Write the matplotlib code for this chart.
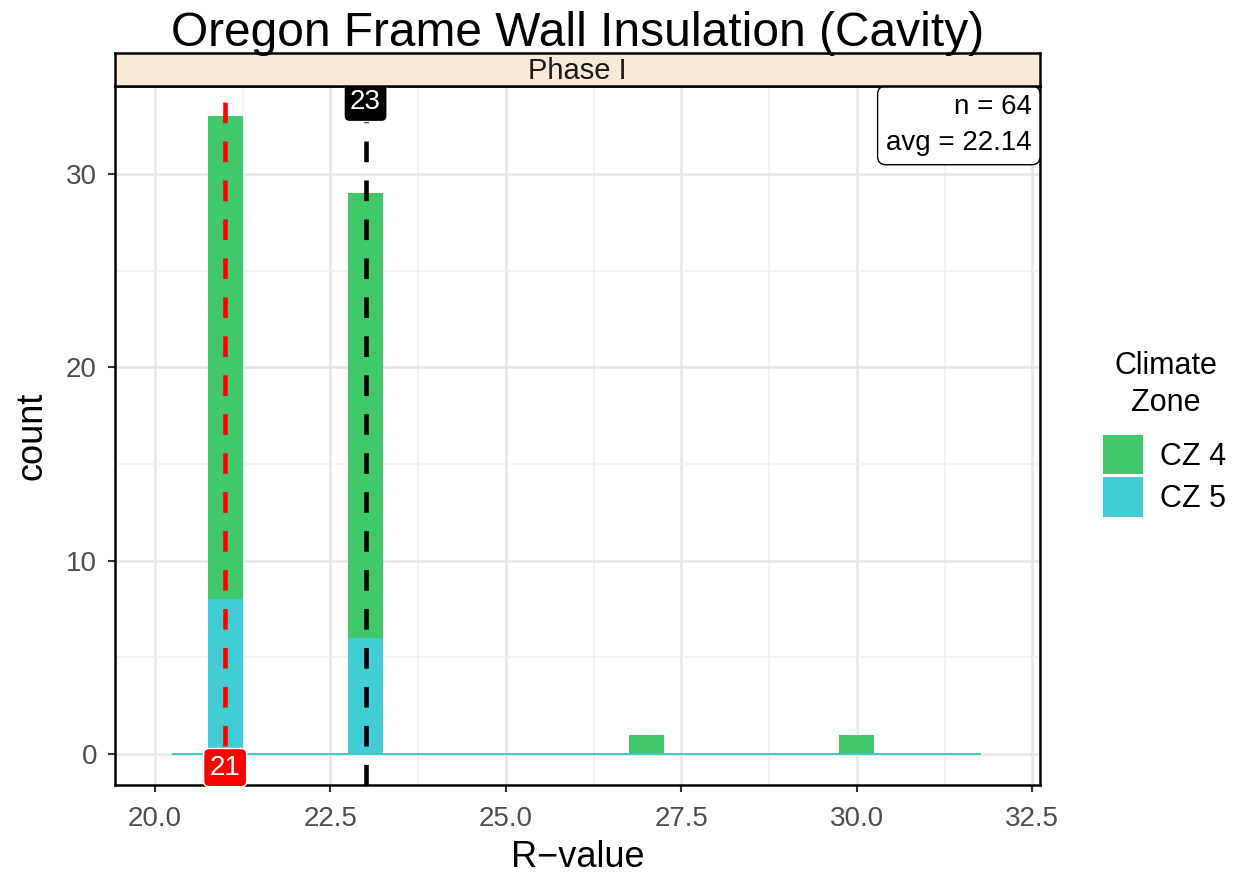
import matplotlib.pyplot as plt
import numpy as np

plt.rcParams['font.family'] = ['Liberation Sans', 'DejaVu Sans']

# datos (R-value, cuenta por zona)
r_values = [21, 23, 27, 30]
cz4_counts = [25, 23, 1, 1]
cz5_counts = [8, 6, 0, 0]
zones = ["CZ 4", "CZ 5"]
colores = ["#41C86A", "#41CDD3"]

bin_width = 0.5
bin_lo, bin_hi = 20.25, 31.75

mediana = 21
objetivo = 23
n_total = sum(cz4_counts) + sum(cz5_counts)
promedio = (np.dot(r_values, cz4_counts) + np.dot(r_values, cz5_counts)) / n_total

fig = plt.figure(figsize=(12.43, 8.8), dpi=100)
W, H = 1243, 880
x0, x1, y0, y1 = 115, 1040, 86, 785
ax = fig.add_axes([x0 / W, 1 - y1 / H, (x1 - x0) / W, (y1 - y0) / H])

# grilla estilo theme_bw
ax.set_axisbelow(True)
ax.set_xticks([20.0, 22.5, 25.0, 27.5, 30.0, 32.5])
ax.set_xticks([21.25, 23.75, 26.25, 28.75, 31.25], minor=True)
ax.set_yticks([0, 10, 20, 30])
ax.set_yticks([5, 15, 25], minor=True)
ax.grid(which='major', color="#E6E6E6", lw=1.8)
ax.grid(which='minor', color="#F0F0F0", lw=1.1)

# barras apiladas
b5 = ax.bar(r_values, cz5_counts, width=bin_width, color=colores[1], label=zones[1], zorder=2)
b4 = ax.bar(r_values, cz4_counts, width=bin_width, bottom=cz5_counts, color=colores[0], label=zones[0], zorder=2)
ax.plot([bin_lo, bin_hi], [0, 0], color="#2FCBC0", lw=1.3, zorder=2.5)

# lineas verticales
ax.axvline(mediana, color="red", ls=(0, (4.5, 4)), lw=3.3, zorder=3)
ax.axvline(objetivo, color="black", ls=(0, (4.5, 4)), lw=3.3, zorder=3)

ax.text(mediana, -0.7, f"{mediana}", color="white", fontsize=20, ha="center", va="center", zorder=5,
        bbox=dict(boxstyle="round,pad=0.22,rounding_size=0.2", fc="red", ec="white", lw=1))
ax.text(objetivo, 33.7, f"{objetivo}", color="white", fontsize=20, ha="center", va="center", zorder=5,
        bbox=dict(boxstyle="round,pad=0.22,rounding_size=0.2", fc="black", ec="white", lw=1))

ax.text(0.991, 0.988, f"n = {n_total}\navg = {promedio:.2f}", transform=ax.transAxes, ha="right", va="top",
        fontsize=20, linespacing=1.5, zorder=6,
        bbox=dict(boxstyle="round,pad=0.3,rounding_size=0.3", fc="white", ec="black", lw=1))

ax.set_xlim(19.43, 32.61)
ax.set_ylim(-1.6, 34.55)

for s in ax.spines.values():
    s.set_color("black")
    s.set_linewidth(1.8)
ax.tick_params(which='major', labelsize=20, labelcolor="#4D4D4D", color="#333333", length=5, width=1.5)
ax.tick_params(axis='x', pad=10)
ax.tick_params(axis='y', pad=8)
ax.tick_params(which='minor', length=0)
ax.set_xlabel("R\u2212value", fontsize=26, labelpad=6)
ax.set_ylabel("count", fontsize=26, labelpad=12)

# franja "Phase I"
sa = fig.add_axes([x0 / W, 1 - y0 / H, (x1 - x0) / W, 33 / H])
sa.set_facecolor("#FAE9D6")
sa.set_xticks([])
sa.set_yticks([])
for s in sa.spines.values():
    s.set_color("black")
    s.set_linewidth(1.8)
sa.text(0.5, 0.45, "Phase I", ha="center", va="center", fontsize=21, color="#1A1A1A", transform=sa.transAxes)

fig.text((x0 + x1) / 2 / W, 1 - 34 / H, "Oregon Frame Wall Insulation (Cavity)", ha="center", va="center", fontsize=34.5)

# leyenda (titulo aparte para controlar el espacio)
fig.text(1166 / W, 1 - 418 / H, "Climate\nZone", ha="center", va="bottom", fontsize=22,
         multialignment="center", linespacing=1.3)
leg = fig.legend(handles=[b4, b5], labels=zones, loc="upper left",
                 bbox_to_anchor=(1103 / W, 1 - 435 / H), frameon=False, fontsize=22,
                 borderpad=0, borderaxespad=0,
                 handlelength=1.3, handleheight=1.6, handletextpad=0.55, labelspacing=0.1)

fig.savefig("out.png", dpi=100)
